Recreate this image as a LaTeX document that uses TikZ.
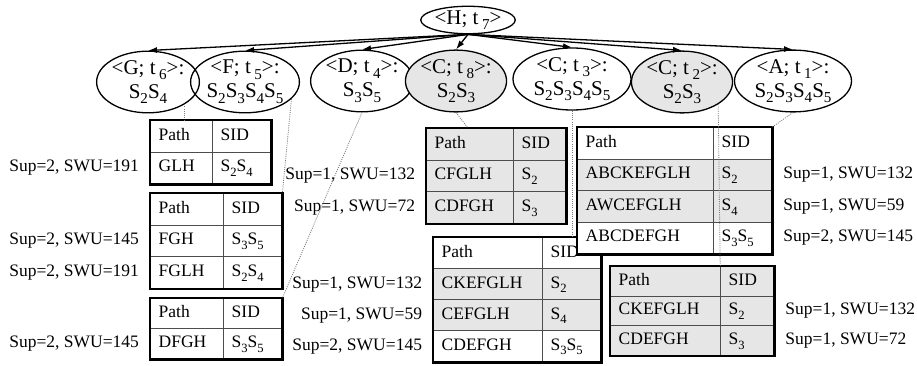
\documentclass[tikz,border=0pt]{standalone}
\usepackage{fontspec}
\setmainfont{Liberation Serif}
\usetikzlibrary{arrows.meta, positioning, shapes.geometric, matrix}
\definecolor{cshade}{HTML}{E6E6E6}
\definecolor{cgrid}{HTML}{4D4D4D}
\definecolor{cdot}{HTML}{7A7A7A}
\makeatletter
\newcommand\ssub[1]{\raisebox{-0.27em}{\fontsize{\fpeval{0.72*\f@size}}{\fpeval{0.72*\f@size}}\selectfont #1}}
\makeatother
\tikzset{
  every picture/.style={font=\fontsize{17.5}{21}\selectfont},
  item/.style={ellipse, draw, line width=1.3pt, inner sep=0pt, align=center, minimum height=58pt, minimum width=#1, font=\fontsize{21}{24}\selectfont},
  item/.default=90pt,
  hit/.style={fill=cshade},
  arrow/.style={-{Latex[length=9pt, width=6pt]}, line width=1.3pt},
  link/.style={draw=cdot, line width=0.8pt, dash pattern=on 1pt off 1.2pt},
  cell/.style={draw=cgrid, line width=1pt, inner xsep=8pt, inner ysep=0pt, text height=12pt, text depth=4pt, minimum height=31.5pt, align=left},
  sidtab/.style 2 args={matrix of nodes, anchor=north west, fill=white, inner sep=0pt, row sep=-1pt, column sep=-1pt, nodes={cell}, column 1/.style={nodes={text width=#1}}, column 2/.style={nodes={text width=#2}}},
  shaded/.style={nodes={fill=cshade}},
  rowh/.style={nodes={minimum height=#1}},
  frame/.style={draw, line width=2.8pt},
  lbl/.style={inner sep=0pt},
  node distance=11pt,
}

\begin{document}
\begin{tikzpicture}[x=1pt, y=-1pt]
  \useasboundingbox (0,0) rectangle (917,366);
  % tree
  \node[item=89pt, minimum height=27pt] (nH) at (468,20) {<H; t\,\ssub{7}>};
  \node[item=90pt] (nG) at (148,82) {<G; t\,\ssub{6}>:\\ S\ssub{2}S\ssub{4}};
  \node[item=105pt] (nF) at (245,82) {<F; t\,\ssub{5}>:\\ S\ssub{2}S\ssub{3}S\ssub{4}S\ssub{5}};
  \node[item=91pt] (nD) at (362,81) {<D; t\,\ssub{4}>:\\ S\ssub{3}S\ssub{5}};
  \node[item=82pt, hit] (nC8) at (456,81) {<C; t\,\ssub{8}>:\\ S\ssub{2}S\ssub{3}};
  \node[item=118pt, minimum height=62pt] (nC3) at (572,79) {<C; t\,\ssub{3}>:\\ S\ssub{2}S\ssub{3}S\ssub{4}S\ssub{5}};
  \node[item=90pt, hit] (nC2) at (682,82) {<C; t\,\ssub{2}>:\\ S\ssub{2}S\ssub{3}};
  \node[item=117pt] (nA) at (793,81) {<A; t\,\ssub{1}>:\\ S\ssub{2}S\ssub{3}S\ssub{4}S\ssub{5}};
  \foreach \n in {nG, nF, nD, nC8, nC3, nC2, nA}
    \draw[arrow] (nH.south) -- (\n.north);
  % tables, left column
  \matrix (tG) [sidtab={46pt}{42pt}] at (150,120) {
    Path & SID \\
    GLH & S\ssub{2}S\ssub{4} \\
  };
  \draw[frame] (tG.north west) rectangle (tG.south east);
  \matrix (tF) [sidtab={57pt}{42pt}] at (150,193) {
    Path & SID \\
    FGH & S\ssub{3}S\ssub{5} \\
    FGLH & S\ssub{2}S\ssub{4} \\
  };
  \draw[frame] (tF.north west) rectangle (tF.south east);
  \matrix (tD) [sidtab={57pt}{42pt}, rowh=30pt] at (150,298) {
    Path & SID \\
    DFGH & S\ssub{3}S\ssub{5} \\
  };
  \draw[frame] (tD.north west) rectangle (tD.south east);
  % tables, middle
  \matrix (tC8) [sidtab={71pt}{36pt}, shaded] at (426,128) {
    Path & SID \\
    CFGLH & S\ssub{2} \\
    CDFGH & S\ssub{3} \\
  };
  \draw[frame] (tC8.north west) rectangle (tC8.south east);
  \matrix (tC3) [sidtab={93pt}{42pt}, rowh=31pt, row 2/.style={shaded}, row 3/.style={shaded}] at (433,237) {
    Path & SID \\
    CKEFGLH & S\ssub{2} \\
    CEFGLH & S\ssub{4} \\
    CDEFGH & S\ssub{3}S\ssub{5} \\
  };
  \draw[frame] (tC3.north west) rectangle (tC3.south east);
  % tables, right
  \matrix (tA) [sidtab={120pt}{42pt}, row 2/.style={shaded}, row 3/.style={shaded}] at (577,127) {
    Path & SID \\
    ABCKEFGLH & S\ssub{2} \\
    AWCEFGLH & S\ssub{4} \\
    ABCDEFGH & S\ssub{3}S\ssub{5} \\
  };
  \draw[frame] (tA.north west) rectangle (tA.south east);
  \matrix (tC2) [sidtab={94pt}{37pt}, rowh=29.5pt, shaded] at (610,266) {
    Path & SID \\
    CKEFGLH & S\ssub{2} \\
    CDEFGH & S\ssub{3} \\
  };
  \draw[frame] (tC2.north west) rectangle (tC2.south east);
  % support and SWU
  \node[lbl, left=of tG-2-1] (sG2) {Sup=2, SWU=191};
  \node[lbl, left=of tF-2-1] (sF2) {Sup=2, SWU=145};
  \node[lbl, left=of tF-3-1] (sF3) {Sup=2, SWU=191};
  \node[lbl, left=of tD-2-1] (sD2) {Sup=2, SWU=145};
  \node[lbl, left=of tC8-2-1] (sC82) {Sup=1, SWU=132};
  \node[lbl, left=of tC8-3-1] (sC83) {Sup=1, SWU=72};
  \node[lbl, left=of tC3-2-1] (sC32) {Sup=1, SWU=132};
  \node[lbl, left=of tC3-3-1] (sC33) {Sup=1, SWU=59};
  \node[lbl, left=of tC3-4-1] (sC34) {Sup=2, SWU=145};
  \node[lbl, right=of tA-2-2] (sA2) {Sup=1, SWU=132};
  \node[lbl, right=of tA-3-2] (sA3) {Sup=1, SWU=59};
  \node[lbl, right=of tA-4-2] (sA4) {Sup=2, SWU=145};
  \node[lbl, right=of tC2-2-2] (sC22) {Sup=1, SWU=132};
  \node[lbl, right=of tC2-3-2] (sC23) {Sup=1, SWU=72};
  % dotted links
  \draw[link] (nG.south east) -- (nG.south east |- tG.north);
  \draw[link] (nF.-20) -- (tF.north east);
  \draw[link] (nD.south) -- (tD.north east);
  \draw[link] (nC8.south) -- ([xshift=42pt]tC8.north west);
  \draw[link] (nC3.south) -- (nC3.south |- tC3.north);
  \draw[link] (nC2.south east) -- (tC2-1-2.north west);
  \draw[link] (nA.south) -- (tA.north east);
\end{tikzpicture}
\end{document}
